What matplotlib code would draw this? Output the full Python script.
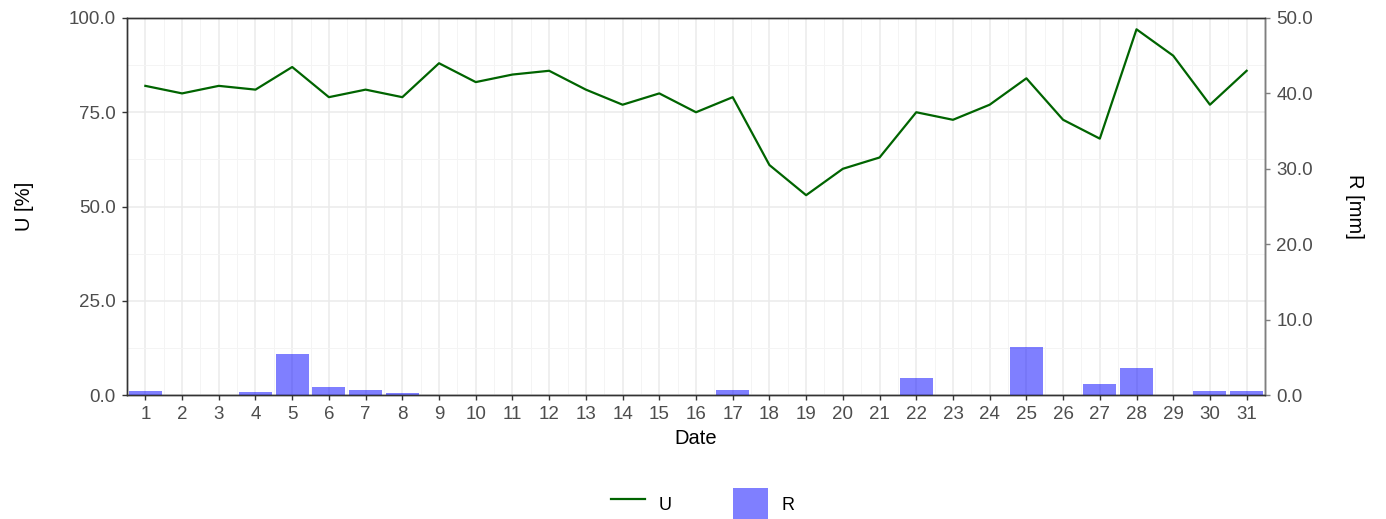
import matplotlib
matplotlib.use("Agg")
import matplotlib.pyplot as plt
from matplotlib.lines import Line2D
from matplotlib.patches import Patch
from matplotlib.legend_handler import HandlerLine2D
from matplotlib.ticker import MultipleLocator, FormatStrFormatter

days = list(range(1, 32))
U = [82, 80, 82, 81, 87, 79, 81, 79, 88, 83, 85, 86, 81, 77, 80, 75,
     79, 61, 53, 60, 63, 75, 73, 77, 84, 73, 68, 97, 90, 77, 86]
R = [0.5, 0, 0, 0.4, 5.5, 1.0, 0.7, 0.3, 0, 0, 0, 0, 0, 0, 0, 0,
     0.6, 0, 0, 0, 0, 2.3, 0, 0, 6.3, 0, 1.4, 3.6, 0, 0.5, 0.5]

plt.rcParams['font.family'] = ['Liberation Sans', 'DejaVu Sans']

fig = plt.figure(figsize=(13.86, 5.19), dpi=100)
ax = fig.add_axes([127/1386, 1-395/519, (1265-127)/1386, (395-18)/519])
ax2 = ax.twinx()

ax.set_xlim(0.5, 31.5)
ax.set_ylim(0, 100)
ax2.set_ylim(0, 50)

# grid
ax.xaxis.set_major_locator(MultipleLocator(1))
ax.xaxis.set_minor_locator(MultipleLocator(0.5))
ax.yaxis.set_major_locator(MultipleLocator(25))
ax.yaxis.set_minor_locator(MultipleLocator(12.5))
ax.grid(which='major', color='#EBEBEB', linewidth=1.1)
ax.grid(which='minor', color='#F4F4F4', linewidth=0.7)
ax.set_axisbelow(True)
ax.tick_params(which='minor', length=0)

ax.plot(days, U, color='#006400', linewidth=1.6, zorder=3)
ax2.bar(days, R, width=0.9, color='#0000FF', alpha=0.5, linewidth=0, zorder=2)

ax.yaxis.set_major_formatter(FormatStrFormatter('%.1f'))
ax2.yaxis.set_major_locator(MultipleLocator(10))
ax2.yaxis.set_major_formatter(FormatStrFormatter('%.1f'))
ax.set_xticks(days)
ax.set_xticklabels([str(d) for d in days])

for a in (ax, ax2):
    a.tick_params(which='major', length=3.6, width=1, color='#333333',
                  labelcolor='#4D4D4D', labelsize=13.5, pad=4.5)
    for s in a.spines.values():
        s.set_color('#333333')
        s.set_linewidth(1)
ax.tick_params(axis='x', pad=4)
ax2.spines['right'].set_color('#7F7F7F')
ax2.tick_params(axis='y', color='#7F7F7F')

ax.set_ylabel('U [%]', fontsize=14.5, color='black', labelpad=25)
ax2.set_ylabel('R [mm]', fontsize=14.5, color='black', rotation=270, labelpad=37)
ax.set_xlabel('Date', fontsize=14.5, color='black', labelpad=5)


class ShortLine(HandlerLine2D):
    def create_artists(self, legend, orig_handle, xdescent, ydescent,
                       width, height, fontsize, trans):
        arts = super().create_artists(legend, orig_handle, xdescent, ydescent,
                                      width, height, fontsize, trans)
        for a in arts:
            xd = a.get_xdata()
            if len(xd) == 2:
                cut = width * 0.09
                a.set_xdata([xd[0] + cut, xd[1] - cut])
        return arts


line_h = Line2D([0], [0], color='#006400', linewidth=1.6)
handles = [line_h, Patch(facecolor='#0000FF', alpha=0.5, linewidth=0)]
fig.legend(handles, ['U', 'R'], loc='center', bbox_to_anchor=(0.5069, 1-504/519),
           ncol=2, frameon=False, fontsize=13, handlelength=1.9, handleheight=2.4,
           columnspacing=3.4, handletextpad=0.75,
           handler_map={line_h: ShortLine()})

fig.savefig('out.png', dpi=100)
